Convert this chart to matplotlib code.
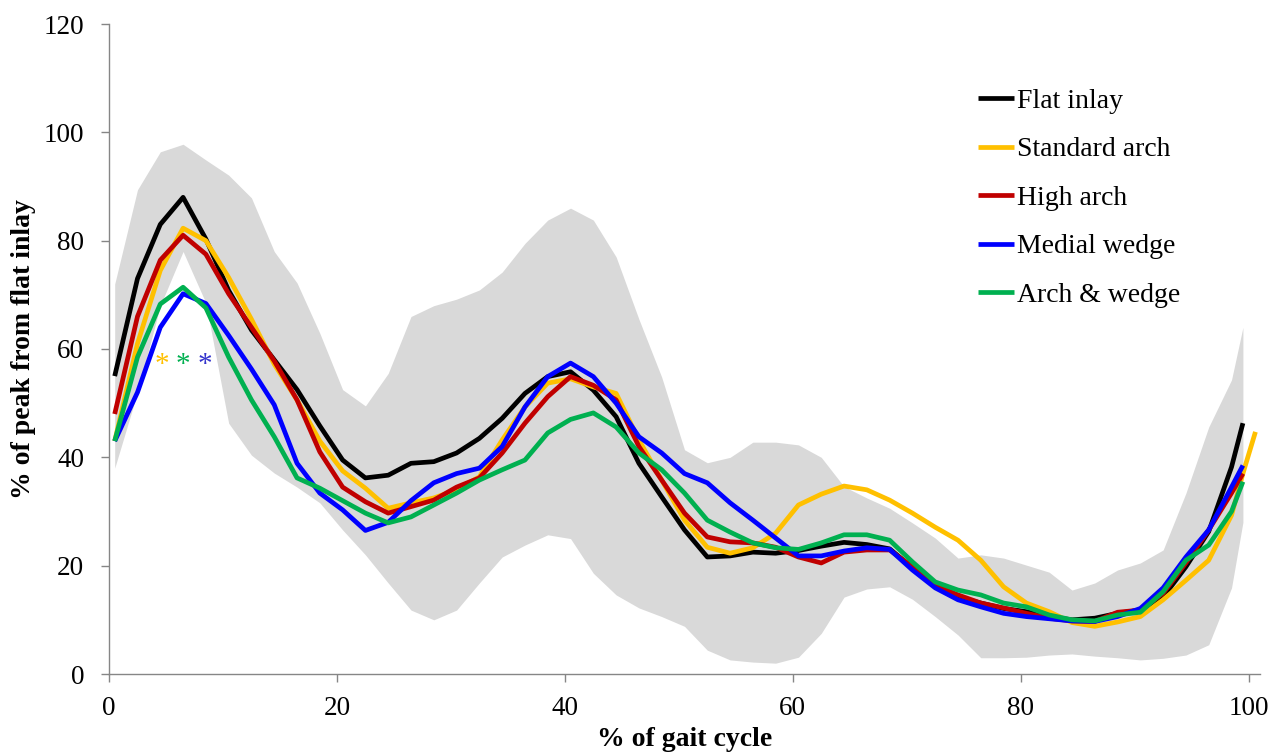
import matplotlib
matplotlib.use("Agg")
import matplotlib.pyplot as plt

# x positions (% of gait cycle)
gait_x = [0.5, 2.5, 4.5, 6.5, 8.5, 10.5, 12.5, 14.5, 16.5, 18.5,
          20.5, 22.5, 24.5, 26.5, 28.5, 30.5, 32.5, 34.5, 36.5, 38.5,
          40.5, 42.5, 44.5, 46.5, 48.5, 50.5, 52.5, 54.5, 56.5, 58.5,
          60.5, 62.5, 64.5, 66.5, 68.5, 70.5, 72.5, 74.5, 76.5, 78.5,
          80.5, 82.5, 84.5, 86.5, 88.5, 90.5, 92.5, 94.5, 96.5, 98.5, 99.5]

flat_inlay = [55, 73, 83, 88, 80.3, 70.8, 63.5, 58, 52.5, 45.8,
              39.5, 36.2, 36.7, 38.9, 39.2, 40.8, 43.5, 47.2, 51.8, 54.9,
              55.8, 52.4, 47.5, 38.9, 32.7, 26.6, 21.6, 21.8, 22.5, 22.3,
              22.8, 23.6, 24.3, 23.9, 23.1, 19.6, 16.1, 14.2, 13.1, 12.1,
              11.5, 10.6, 10.0, 10.3, 11.2, 11.8, 14.2, 19.8, 26.3, 38.2, 46.3]

standard_arch = [43, 61, 74.5, 82.3, 80, 73.2, 65.5, 57.2, 50.6, 43,
                 37.5, 34.3, 30.6, 31.6, 32.5, 34, 36.4, 43.2, 49.3, 53.7,
                 54.5, 53, 51.8, 43.2, 35.8, 28.4, 23.4, 22.3, 23.3, 26,
                 31.2, 33.2, 34.7, 34, 32.1, 29.7, 27.1, 24.7, 21, 16.1,
                 13.1, 11.5, 9.5, 8.8, 9.6, 10.6, 13.7, 17.3, 21, 29.3, 37]
standard_arch_end_x = [100.6]
standard_arch_end = [44.7]

high_arch = [48, 66, 76.4, 81, 77.5, 70.2, 64, 57.8, 50.6, 41,
             34.5, 31.8, 29.7, 30.9, 32.1, 34.5, 36.2, 40.8, 46.3, 51.2,
             54.9, 53.3, 50.6, 42, 35.8, 29.7, 25.3, 24.4, 24.2, 23.4,
             21.6, 20.5, 22.5, 22.9, 22.9, 19.8, 16.4, 14.6, 13.1, 12.2,
             11.2, 10.3, 9.8, 9.7, 11.4, 11.8, 14.9, 20.5, 26.6, 33.4, 37]

medial_wedge = [43, 52, 64, 70.2, 68.4, 62.5, 56.3, 49.7, 38.9, 33.4,
                30.3, 26.5, 28, 32, 35.3, 37, 38, 42, 49.3, 54.9,
                57.4, 54.9, 50, 43.8, 40.8, 37, 35.3, 31.6, 28.4, 25.1,
                21.8, 21.8, 22.7, 23.3, 23, 19.2, 15.9, 13.7, 12.4, 11.2,
                10.6, 10.2, 9.8, 9.7, 10.6, 12.1, 15.9, 21.6, 26.6, 34.5, 38.5]

arch_wedge = [43, 58.5, 68.3, 71.4, 67.6, 58.5, 50.6, 43.8, 36.2, 34.3,
              32, 29.7, 27.9, 29, 31.2, 33.4, 35.8, 37.7, 39.5, 44.5,
              47, 48.2, 45.6, 40.8, 37.7, 33.4, 28.4, 26.2, 24.2, 23.3,
              23, 24.2, 25.7, 25.7, 24.7, 20.7, 17, 15.5, 14.6, 13.1,
              12.4, 10.9, 10.0, 9.8, 10.9, 11.4, 15.2, 21, 23.8, 30, 35.5]

band_upper = [72, 89.4, 96.4, 97.8, 94.9, 92.1, 87.9, 78, 72.2, 62.9,
              52.5, 49.5, 55.5, 66, 68, 69.2, 70.9, 74.2, 79.5, 83.8,
              86, 83.8, 77, 65.5, 54.8, 41.4, 39, 40, 42.8, 42.8,
              42.3, 40, 34.6, 32.5, 30.6, 27.9, 25.1, 21.4, 22, 21.4,
              20.1, 18.8, 15.5, 16.8, 19.2, 20.5, 22.9, 33.4, 45.6, 54.3, 64]

band_lower = [38, 52, 68, 78, 68.5, 46.3, 40.4, 37.1, 34.5, 31.6,
              26.6, 22, 16.8, 11.8, 10, 11.8, 16.8, 21.6, 23.8, 25.7,
              25, 18.6, 14.6, 12.2, 10.6, 8.8, 4.4, 2.6, 2.2, 2,
              3.1, 7.5, 14.2, 15.7, 16.1, 13.8, 10.6, 7.2, 3, 3,
              3.1, 3.5, 3.7, 3.3, 3, 2.6, 2.9, 3.5, 5.4, 15.9, 28]

series_names = ["Flat inlay", "Standard arch", "High arch", "Medial wedge", "Arch & wedge"]
series_colors = ["#000000", "#FFC000", "#C00000", "#0000FF", "#00B050"]

x_ticks = [0, 20, 40, 60, 80, 100]
y_ticks = [0, 20, 40, 60, 80, 100, 120]

star_x = [4.65, 6.5, 8.4]
star_y = [57.0, 57.0, 57.0]
star_colors = ["#FFC000", "#00B050", "#3333CC"]

plt.rcParams['font.family'] = ['Liberation Serif', 'DejaVu Serif']

fig = plt.figure(figsize=(12.8, 7.55), dpi=100)
ax = fig.add_axes([109/1280, 1-674/755, (1260-109)/1280, (674-24)/755])

ax.fill_between(gait_x, band_lower, band_upper, color="#D9D9D9", linewidth=0, zorder=1)

all_series = [flat_inlay, standard_arch, high_arch, medial_wedge, arch_wedge]
for i, (name, ys, col) in enumerate(zip(series_names, all_series, series_colors)):
    xs = list(gait_x)
    yy = list(ys)
    if name == "Standard arch":
        xs = xs + standard_arch_end_x
        yy = yy + standard_arch_end
    ax.plot(xs, yy, color=col, lw=3.4, label=name, zorder=2 + i,
            solid_joinstyle='round', solid_capstyle='butt')

for sx, sy, sc in zip(star_x, star_y, star_colors):
    ax.text(sx, sy, "*", color=sc, fontsize=21, ha='center', va='center', zorder=10)

ax.set_xlim(0, 101)
ax.set_ylim(0, 120)
ax.set_xticks(x_ticks)
ax.set_yticks(y_ticks)
ax.tick_params(axis='both', labelsize=19.5, direction='out', length=6, width=1,
               color='#868686', labelcolor='black')
ax.tick_params(axis='y', pad=12)
ax.tick_params(axis='x', pad=10)
for s in ['top', 'right']:
    ax.spines[s].set_visible(False)
for s in ['left', 'bottom']:
    ax.spines[s].set_color('#868686')
    ax.spines[s].set_linewidth(1)

ax.set_xlabel("% of gait cycle", fontsize=20, fontweight='bold', labelpad=4)
ax.set_ylabel("% of peak from flat inlay", fontsize=20, fontweight='bold', labelpad=5)

leg = ax.legend(loc='upper left', bbox_to_anchor=(0.745, 0.918), frameon=False,
                fontsize=20, handlelength=1.3, handletextpad=0.12, labelspacing=0.83,
                borderaxespad=0)

fig.savefig("out.png", dpi=100)
